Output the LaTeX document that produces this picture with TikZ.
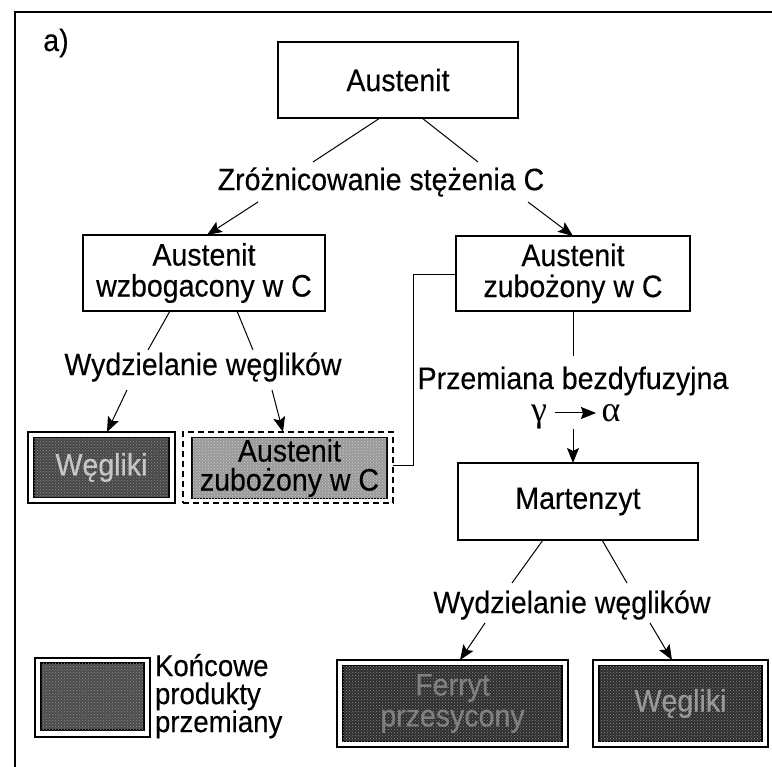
\documentclass[tikz,border=0pt]{standalone}
\usepackage{fontspec}
\setmainfont[FakeStretch=0.92,FakeBold=0.3]{Liberation Sans}
\newfontfamily\greekfont{Liberation Serif}
\usetikzlibrary{arrows.meta,patterns}
\begin{document}
\begin{tikzpicture}[x=1pt,y=-1pt,
  every node/.style={font=\fontsize{31}{31}\selectfont, inner sep=0pt, outer sep=0pt},
  box/.style={draw, line width=1.2pt, align=center, fill=white},
  lbl/.style={align=center},
  arr/.style={line width=1pt, -{Stealth[length=15pt,width=12pt,inset=3pt]}},
  ln/.style={line width=1pt},
  outerbox/.style={draw, line width=1.5pt, fill=white},
  darkbox/.style={draw, line width=1.5pt, align=center, fill=black!72,
     postaction={pattern=crosshatch dots, pattern color=black!45}},
  lightbox/.style={draw, line width=1.5pt, align=center, fill=black!40,
     postaction={pattern=crosshatch dots, pattern color=black!20}},
]
\useasboundingbox (0,0) rectangle (772,767);
\fill[white] (0,0) rectangle (772,767);
\draw[line width=1.2pt] (15,767) -- (15,12);
\draw[line width=2.5pt] (14,12) -- (772,12);

\node (lab) at (56,43) {a)};

% top
\node[box, minimum width=240pt, minimum height=76pt] (aus) at (398,80) {Austenit};
\node[lbl] (zr) at (381,182) {Zróżnicowanie stężenia C};
\coordinate (zrL) at (313,162);
\coordinate (zrR) at (478,162);
\coordinate (zrL2) at (258,202);
\coordinate (zrR2) at (528,202);
\draw[ln] (aus.south -| 380,0) -- (zrL);
\draw[ln] (aus.south -| 422,0) -- (zrR);

\node[box, minimum width=242pt, minimum height=76pt] (wz) at (204,273) {Austenit\\wzbogacony w C};
\node[box, minimum width=234pt, minimum height=75pt] (zu) at (573,273.5) {Austenit\\zubożony w C};
\draw[arr] (zrL2) -- (wz.north -| 207,0);
\draw[arr] (zrR2) -- (zu.north -| 573,0);

% left branch
\node[lbl] (wyd1) at (203,367) {Wydzielanie węglików};
\coordinate (w1a) at (148,350);
\coordinate (w1b) at (253,350);
\draw[ln] (wz.south -| 170,0) -- (w1a);
\draw[ln] (wz.south -| 237,0) -- (w1b);

\node[outerbox, minimum width=147pt, minimum height=71pt] (weg1o) at (101.5,467.5) {};
\node[darkbox, minimum width=135pt, minimum height=60pt, text=black!22] (weg1) at (101.5,467.5) {Węgliki};

\node[draw, dashed, dash pattern=on 6pt off 4pt, line width=1.5pt, minimum width=210pt, minimum height=71pt] (dsh) at (288,467.5) {};
\node[lightbox, minimum width=195pt, minimum height=61pt, font=\fontsize{31}{29}\selectfont] (zu2) at (289.5,468) {Austenit\\zubożony w C};

\draw[arr] (127,390) -- (weg1o.north -| 107,0);
\draw[arr] (272,390) -- (dsh.north -| 283,0);

\coordinate (bendA) at (413,275);
\coordinate (bendB) at (413,466);
\draw[ln] (zu.west |- bendA) -- (bendA) -- (bendB) -- (dsh.east |- bendB);

% right branch
\coordinate (zuv) at (573,356);
\draw[ln] (zu.south -| zuv) -- (zuv);
\node[lbl] (prz) at (573,381) {Przemiana bezdyfuzyjna};
\node[font=\greekfont\fontsize{36}{36}\selectfont] (gam) at (539,417) {γ};
\node[font=\greekfont\fontsize{36}{36}\selectfont] (alp) at (611,413) {α};
\draw[line width=1pt, -{Stealth[length=15pt,width=12pt,inset=2pt]}] (555,413) -- (596,413);

\node[box, minimum width=240pt, minimum height=77pt] (mart) at (578,501.5) {Martenzyt};
\draw[arr] (573,429) -- (mart.north -| 573,0);

\coordinate (m1) at (512,583);
\coordinate (m2) at (627,583);
\draw[ln] (mart.south -| 543,0) -- (m1);
\draw[ln] (mart.south -| 602,0) -- (m2);
\node[lbl] (wyd2) at (572,605) {Wydzielanie węglików};

\node[outerbox, minimum width=231pt, minimum height=87pt] (ferO) at (452.5,703.5) {};
\node[darkbox, fill=black!82, minimum width=219pt, minimum height=76pt, text=black!50] (fer) at (452.5,703.5) {Ferryt\\przesycony};

\node[outerbox, minimum width=175pt, minimum height=87pt] (weg2o) at (680.5,703.5) {};
\node[darkbox, fill=black!82, minimum width=163pt, minimum height=76pt, text=black!40] (weg2) at (680.5,703.5) {Węgliki};

\draw[arr] (485,623) -- (ferO.north -| 460,0);
\draw[arr] (650,623) -- (weg2o.north -| 672,0);

% legend
\node[outerbox, minimum width=115pt, minimum height=79pt] (legO) at (92.5,697.5) {};
\node[darkbox, fill=black!70, minimum width=103pt, minimum height=67pt] (leg) at (92.5,696.5) {};
\node[align=left, anchor=north west, font=\fontsize{30}{28}\selectfont] (legt) at (155,654) {Końcowe\\produkty\\przemiany};
\end{tikzpicture}
\end{document}
